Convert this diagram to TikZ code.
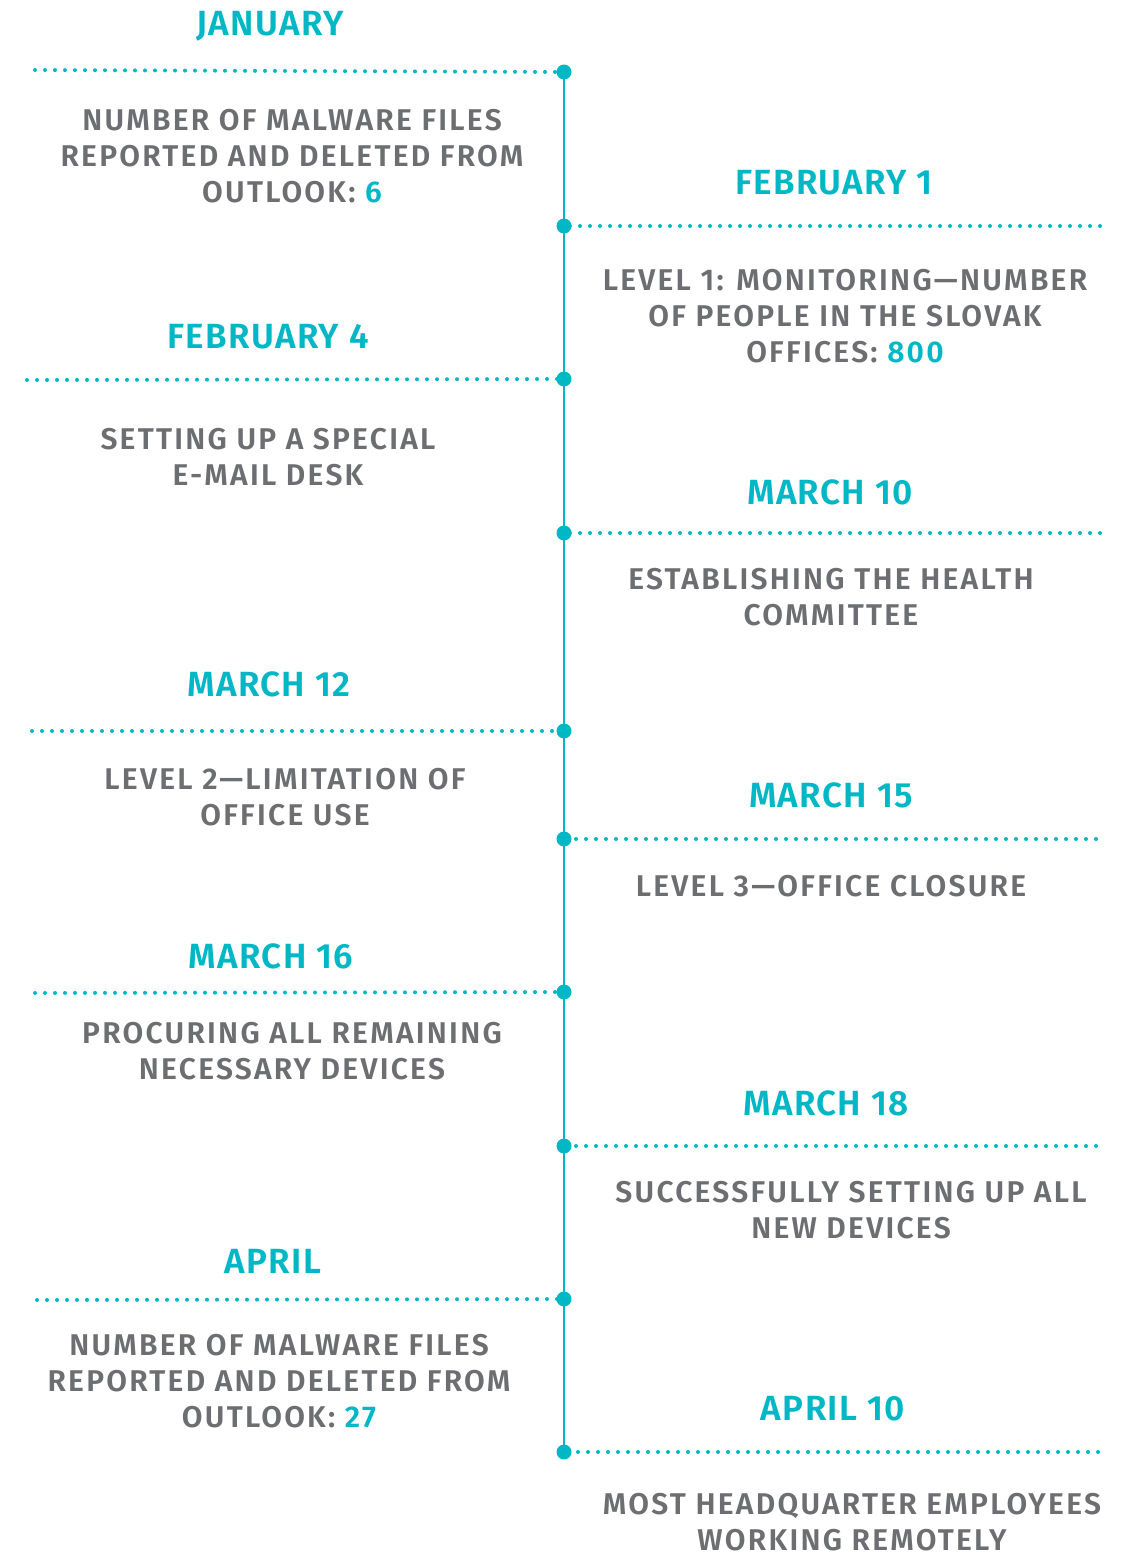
\documentclass[tikz,border=0pt]{standalone}
\usepackage{fontspec}
\setmainfont{Fira Sans SemiBold}
\newfontfamily\bodyfont[LetterSpace=7.5]{Fira Sans SemiBold}
\newfontfamily\titlefont[LetterSpace=4]{Fira Sans SemiBold}
\definecolor{teal}{HTML}{00B7C6}
\definecolor{greytext}{HTML}{6D6E71}
\begin{document}
\begin{tikzpicture}[x=1pt,y=-1pt,
  title/.style={text=teal,font=\titlefont\fontsize{35}{36}\selectfont,inner sep=0pt,anchor=center},
  body/.style={text=greytext,font=\bodyfont\fontsize{30}{36}\selectfont,inner sep=0pt,align=center,anchor=center},
  dotline/.style={draw=teal,line width=4pt,line cap=round,dash pattern=on 0pt off 10pt},
  bigdot/.style={circle,fill=teal,inner sep=0pt,minimum size=15pt}
]
\useasboundingbox (0,0) rectangle (1121,1552);
% timeline dots
\node[bigdot] (d1) at (564,72) {};
\node[bigdot] (d2) at (564,226) {};
\node[bigdot] (d3) at (564,379) {};
\node[bigdot] (d4) at (564,533) {};
\node[bigdot] (d5) at (564,731) {};
\node[bigdot] (d6) at (564,839) {};
\node[bigdot] (d7) at (564,992) {};
\node[bigdot] (d8) at (564,1146) {};
\node[bigdot] (d9) at (564,1299) {};
\node[bigdot] (d10) at (564,1452) {};
\draw[teal,line width=2.5pt] (d1.center) -- (d10.center);
% dotted line ends
\coordinate (e1) at (35,70);
\coordinate (e2) at (1100,226);
\coordinate (e3) at (27,380);
\coordinate (e4) at (1100,533);
\coordinate (e5) at (32,731);
\coordinate (e6) at (1096,839);
\coordinate (e7) at (35,993);
\coordinate (e8) at (1096,1146);
\coordinate (e9) at (37,1300);
\coordinate (e10) at (1098,1452);
\foreach \i in {1,...,10} {\draw[dotline] (e\i) -- (d\i.center);}
% titles
\node[title] (t1) at (270,26) {JANUARY};
\node[title] (t2) at (834,183) {FEBRUARY 1};
\node[title] (t3) at (268,337) {FEBRUARY 4};
\node[title] (t4) at (830,492) {MARCH 10};
\node[title] (t5) at (269,684) {MARCH 12};
\node[title] (t6) at (831,795) {MARCH 15};
\node[title] (t7) at (271,956) {MARCH 16};
\node[title] (t8) at (826,1103) {MARCH 18};
\node[title] (t9) at (273,1261) {APRIL};
\node[title] (t10) at (833,1409) {APRIL 10};
% bodies
\node[body] (b1) at (292,156) {NUMBER OF MALWARE FILES\\REPORTED AND DELETED FROM\\OUTLOOK: \textcolor{teal}{6}};
\node[body] (b2) at (845,316) {LEVEL 1: MONITORING—NUMBER\\OF PEOPLE IN THE SLOVAK\\OFFICES: \textcolor{teal}{800}};
\node[body] (b3) at (268,457) {SETTING UP A SPECIAL\\E-MAIL DESK};
\node[body] (b4) at (831,597) {ESTABLISHING THE HEALTH\\COMMITTEE};
\node[body] (b5) at (285,797) {LEVEL 2—LIMITATION OF\\OFFICE USE};
\node[body] (b6) at (831,886) {LEVEL 3—OFFICE CLOSURE};
\node[body] (b7) at (292,1051) {PROCURING ALL REMAINING\\NECESSARY DEVICES};
\node[body] (b8) at (851,1210) {SUCCESSFULLY SETTING UP ALL\\NEW DEVICES};
\node[body] (b9) at (279,1381) {NUMBER OF MALWARE FILES\\REPORTED AND DELETED FROM\\OUTLOOK: \textcolor{teal}{27}};
\node[body] (b10) at (852,1522) {MOST HEADQUARTER EMPLOYEES\\WORKING REMOTELY};
\end{tikzpicture}
\end{document}
